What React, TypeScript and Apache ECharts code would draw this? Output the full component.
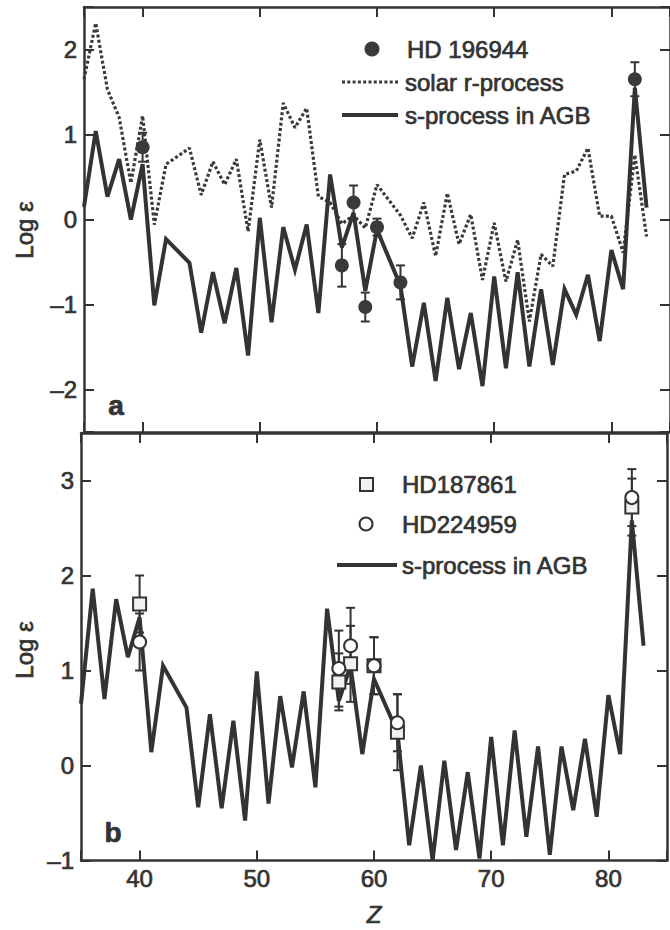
import React, { useEffect, useRef } from "react";
import * as echarts from "echarts";

// Atomic numbers (Tc 43 and Pm 61 absent)
const zS = [35, 36, 37, 38, 39, 40, 41, 42, 44, 45, 46, 47, 48, 49, 50, 51, 52, 53, 54, 55, 56, 57, 58, 59, 60, 62, 63, 64, 65, 66, 67, 68, 69, 70, 71, 72, 73, 74, 75, 76, 77, 78, 79, 80, 81, 82, 83];

// Panel a
const sProcessA = [0.15, 1.04, 0.27, 0.71, 0.0, 0.65, -1.01, -0.23, -0.51, -1.33, -0.62, -1.22, -0.57, -1.6, 0.02, -1.21, -0.09, -0.59, -0.06, -1.1, 0.53, -0.33, 0.08, -0.84, -0.12, -0.78, -1.73, -0.98, -1.9, -0.92, -1.76, -1.1, -1.96, -0.67, -1.75, -0.62, -1.73, -0.82, -1.71, -0.82, -1.12, -0.65, -1.43, -0.36, -0.82, 1.55, 0.14];
const solarR = [1.65, 2.31, 1.53, 1.2, 0.43, 1.22, -0.06, 0.65, 0.84, 0.29, 0.68, 0.41, 0.71, -0.14, 0.94, 0.14, 1.37, 1.08, 1.31, 0.27, 0.2, -0.05, 0.05, -0.1, 0.41, 0.05, -0.22, 0.2, -0.43, 0.31, -0.29, 0.06, -0.71, -0.04, -0.73, -0.24, -1.2, -0.41, -0.55, 0.53, 0.57, 0.84, 0.04, 0.04, -0.39, 0.76, -0.2];
const hd196944Z = [40, 57, 58, 59, 60, 62, 82];
const hd196944Val = [0.85, -0.54, 0.2, -1.03, -0.09, -0.74, 1.65];
const hd196944Err = [0.17, 0.25, 0.2, 0.17, 0.1, 0.2, 0.2];

// Panel b
const sProcessB = [0.65, 1.86, 0.7, 1.75, 1.14, 1.56, 0.14, 1.05, 0.61, -0.44, 0.54, -0.45, 0.47, -0.58, 0.99, -0.4, 0.73, -0.02, 0.78, -0.23, 1.65, 0.68, 1.05, 0.12, 0.91, 0.35, -0.84, 0.0, -1.0, 0.05, -0.89, -0.07, -0.98, 0.3, -0.84, 0.37, -0.75, 0.2, -0.94, 0.2, -0.47, 0.28, -0.54, 0.74, 0.12, 2.58, 1.26];
const obsZ = [40, 57, 58, 60, 62, 82];
const hd187861Val = [1.7, 0.88, 1.07, 1.05, 0.35, 2.72];
const hd187861Err = [0.3, 0.3, 0.4, 0.3, 0.4, 0.3];
const hd224959Val = [1.3, 1.02, 1.26, 1.05, 0.45, 2.82];
const hd224959Err = [0.3, 0.4, 0.4, 0.3, 0.3, 0.3];

const INK = "#333333";
const FONT = "'Liberation Sans', Arial, Helvetica, sans-serif";
const HEAVY = { textBorderColor: INK, textBorderWidth: 0.7 };

const fmtNum = (v: number) => (Number.isInteger(v) ? String(v).replace("-", "\u2013") : "");

function errorBarRender(params: any, api: any) {
  const x = api.value(0);
  const lo = api.coord([x, api.value(1)]);
  const hi = api.coord([x, api.value(2)]);
  const w = 4.5;
  const st = { stroke: INK, lineWidth: 2 };
  return {
    type: "group",
    children: [
      { type: "line", shape: { x1: lo[0], y1: lo[1], x2: hi[0], y2: hi[1] }, style: st },
      { type: "line", shape: { x1: lo[0] - w, y1: lo[1], x2: lo[0] + w, y2: lo[1] }, style: st },
      { type: "line", shape: { x1: hi[0] - w, y1: hi[1], x2: hi[0] + w, y2: hi[1] }, style: st },
    ],
  };
}

function xAxes(gridIndex: number, showLabels: boolean) {
  const common = {
    type: "value",
    gridIndex,
    min: 35,
    max: 85,
    splitNumber: 5,
    splitLine: { show: false },
    axisLine: { show: true, onZero: false, lineStyle: { color: INK, width: 2.5 } },
    axisTick: { show: true, inside: true, length: 10, lineStyle: { color: INK, width: 2 } },
  };
  return [
    {
      ...common,
      position: "bottom",
      axisLabel: {
        show: showLabels,
        margin: 6,
        color: INK,
        fontFamily: FONT,
        fontSize: 24,
        ...HEAVY,
        formatter: (v: number) => (v % 10 === 0 ? String(v) : ""),
      },
      name: showLabels ? "Z" : "",
      nameLocation: "middle",
      nameGap: 42,
      nameTextStyle: { color: INK, fontFamily: FONT, fontSize: 24, fontStyle: "italic", ...HEAVY },
    },
    { ...common, position: "top", axisLabel: { show: false } },
  ];
}

function yAxes(gridIndex: number, min: number, max: number, interval?: number) {
  const common: any = {
    type: "value",
    gridIndex,
    min,
    max,
    splitNumber: 5,
    splitLine: { show: false },
    axisLine: { show: true, onZero: false, lineStyle: { color: INK, width: 2.5 } },
    axisTick: { show: true, inside: true, length: 10, lineStyle: { color: INK, width: 2 } },
  };
  if (interval) common.interval = interval;
  return [
    {
      ...common,
      position: "left",
      axisLabel: { show: true, margin: 7, color: INK, fontFamily: FONT, fontSize: 24, ...HEAVY, formatter: fmtNum },
    },
    { ...common, position: "right", axisLabel: { show: false } },
  ];
}

export default function App() {
  const ref = useRef<HTMLDivElement>(null);

  useEffect(() => {
    if (!ref.current) return;
    const chart = echarts.init(ref.current, null, { renderer: "svg" });

    const sA = zS.map((z, i) => [z, sProcessA[i]]);
    const rA = zS.map((z, i) => [z, solarR[i]]);
    const sB = zS.map((z, i) => [z, sProcessB[i]]);
    const hdPts = hd196944Z.map((z, i) => [z, hd196944Val[i]]);
    const hdErr = hd196944Z.map((z, i) => [z, hd196944Val[i] - hd196944Err[i], hd196944Val[i] + hd196944Err[i]]);
    const sqPts = obsZ.map((z, i) => [z, hd187861Val[i]]);
    const sqErr = obsZ.map((z, i) => [z, hd187861Val[i] - hd187861Err[i], hd187861Val[i] + hd187861Err[i]]);
    const ciPts = obsZ.map((z, i) => [z, hd224959Val[i]]);
    const ciErr = obsZ.map((z, i) => [z, hd224959Val[i] - hd224959Err[i], hd224959Val[i] + hd224959Err[i]]);

    const txt = { fill: INK, fontFamily: FONT, fontSize: 24, textVerticalAlign: "middle", textAlign: "left", stroke: INK, lineWidth: 0.7 };

    chart.setOption({
      animation: false,
      backgroundColor: "#ffffff",
      grid: [
        { left: 84, top: 7, width: 593.5, height: 425 },
        { left: 81, top: 433, width: 593.5, height: 427.5 },
      ],
      xAxis: [...xAxes(0, false), ...xAxes(1, true)],
      yAxis: [...yAxes(0, -2.5, 2.5), ...yAxes(1, -1, 3.5, 1)],
      series: [
        {
          name: "solar r-process",
          type: "line",
          xAxisIndex: 0,
          yAxisIndex: 0,
          data: rA,
          showSymbol: false,
          lineStyle: { color: "#3a3a3a", width: 3.2, type: [3, 2.3] },
        },
        {
          name: "s-process in AGB",
          type: "line",
          xAxisIndex: 0,
          yAxisIndex: 0,
          data: sA,
          showSymbol: false,
          lineStyle: { color: INK, width: 4, join: "miter", miterLimit: 4 },
        },
        {
          type: "custom",
          xAxisIndex: 0,
          yAxisIndex: 0,
          data: hdErr,
          encode: { x: 0, y: [1, 2] },
          renderItem: errorBarRender,
          z: 3,
        },
        {
          name: "HD 196944",
          type: "scatter",
          xAxisIndex: 0,
          yAxisIndex: 0,
          data: hdPts,
          symbol: "circle",
          symbolSize: 14,
          itemStyle: { color: "#3a3a3a", opacity: 1 },
          z: 4,
        },
        {
          name: "s-process in AGB (b)",
          type: "line",
          xAxisIndex: 2,
          yAxisIndex: 2,
          data: sB,
          showSymbol: false,
          lineStyle: { color: INK, width: 4, join: "miter", miterLimit: 4 },
        },
        {
          type: "custom",
          xAxisIndex: 2,
          yAxisIndex: 2,
          data: sqErr,
          encode: { x: 0, y: [1, 2] },
          renderItem: errorBarRender,
          z: 3,
        },
        {
          type: "custom",
          xAxisIndex: 2,
          yAxisIndex: 2,
          data: ciErr,
          encode: { x: 0, y: [1, 2] },
          renderItem: errorBarRender,
          z: 3,
        },
        {
          name: "HD187861",
          type: "scatter",
          xAxisIndex: 2,
          yAxisIndex: 2,
          data: sqPts,
          symbol: "rect",
          symbolSize: 13,
          itemStyle: { color: "#f2f2f2", borderColor: INK, borderWidth: 2, opacity: 1 },
          z: 4,
        },
        {
          name: "HD224959",
          type: "scatter",
          xAxisIndex: 2,
          yAxisIndex: 2,
          data: ciPts,
          symbol: "circle",
          symbolSize: 13,
          itemStyle: { color: "#ffffff", borderColor: INK, borderWidth: 2, opacity: 1 },
          z: 5,
        },
      ],
      graphic: [
        // Y-axis titles
        { type: "text", x: 24, y: 230, rotation: Math.PI / 2, style: { ...txt, text: "Log \u03b5", textAlign: "center" } },
        { type: "text", x: 24, y: 650, rotation: Math.PI / 2, style: { ...txt, text: "Log \u03b5", textAlign: "center" } },
        // Panel letters
        { type: "text", x: 116, y: 405, style: { ...txt, text: "a", textAlign: "center", fontSize: 28, fontWeight: "bold" } },
        { type: "text", x: 113, y: 832, style: { ...txt, text: "b", textAlign: "center", fontSize: 28, fontWeight: "bold" } },
        // Legend panel a
        { type: "circle", shape: { cx: 372, cy: 49, r: 7.5 }, style: { fill: "#3a3a3a" } },
        { type: "text", x: 407, y: 49, style: { ...txt, text: "HD 196944" } },
        { type: "line", shape: { x1: 342, y1: 82, x2: 398, y2: 82 }, style: { stroke: "#3a3a3a", lineWidth: 3.2, lineDash: [3, 2.3] } },
        { type: "text", x: 405, y: 82, style: { ...txt, text: "solar r-process" } },
        { type: "line", shape: { x1: 342, y1: 115, x2: 398, y2: 115 }, style: { stroke: INK, lineWidth: 4 } },
        { type: "text", x: 405, y: 115, style: { ...txt, text: "s-process in AGB" } },
        // Legend panel b
        { type: "rect", shape: { x: 360, y: 478, width: 13, height: 13 }, style: { fill: "#f2f2f2", stroke: INK, lineWidth: 2 } },
        { type: "text", x: 402, y: 484, style: { ...txt, text: "HD187861" } },
        { type: "circle", shape: { cx: 366, cy: 524, r: 6.5 }, style: { fill: "#ffffff", stroke: INK, lineWidth: 2 } },
        { type: "text", x: 402, y: 524, style: { ...txt, text: "HD224959" } },
        { type: "line", shape: { x1: 337, y1: 565, x2: 397, y2: 565 }, style: { stroke: INK, lineWidth: 4 } },
        { type: "text", x: 402, y: 565, style: { ...txt, text: "s-process in AGB" } },
      ],
    });

    return () => chart.dispose();
  }, []);

  return (
    <div
      ref={ref}
      style={{ position: "absolute", left: 0, top: 0, width: 670, height: 930, background: "#fff", overflow: "hidden" }}
    />
  );
}
